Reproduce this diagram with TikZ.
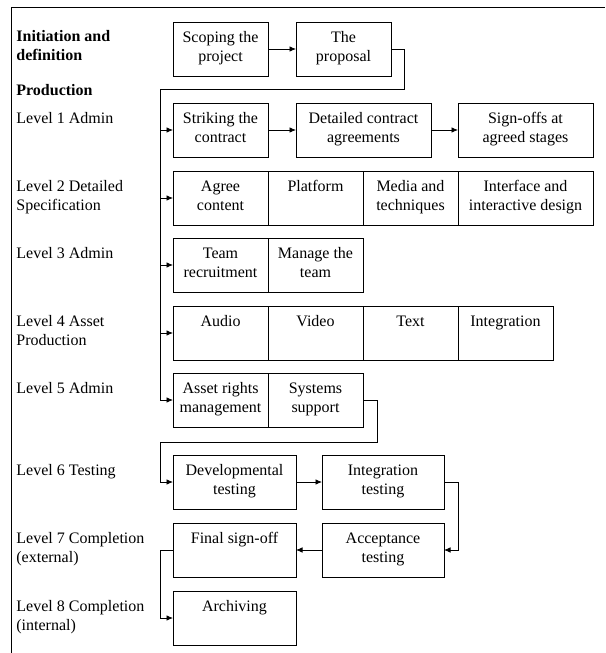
\documentclass[tikz,border=0pt]{standalone}
\usepackage{fontspec}
\setmainfont{Liberation Serif}
\usetikzlibrary{arrows.meta}
\begin{document}
\begin{tikzpicture}[x=1pt, y=-1pt, line width=0.8pt]
	\tikzset{etape/.style={draw=black, anchor=north west, outer sep=0pt, inner xsep=2pt, inner ysep=9pt, minimum width=#1, minimum height=54pt, text height=30pt, text depth=6pt, align=center, font=\fontsize{16}{19}\selectfont}, etape/.default=95pt,
		seule/.style={text height=11pt, text depth=25pt},
		niveau/.style={anchor=base west, align=left, inner sep=0pt, font=\fontsize{16}{19}\selectfont},
		fleche/.style={>={Latex[length=6.5pt,width=5.5pt]}, ->}};
	\useasboundingbox (0,0) rectangle (605,653);
	\draw (11,653) -- (11,7) -- (605,7);

	% labels: base is the baseline of the last line
	\node[niveau, font=\fontsize{16}{19}\selectfont\bfseries] (init) at (16,60) {Initiation and\\definition};
	\node[niveau, font=\fontsize{16}{19}\selectfont\bfseries] (prod) at (16,95) {Production};
	\node[niveau] (n1) at (16,123) {Level 1 Admin};
	\node[niveau] (n2) at (16,210) {Level 2 Detailed\\Specification};
	\node[niveau] (n3) at (16,258) {Level 3 Admin};
	\node[niveau] (n4) at (16,345) {Level 4 Asset\\Production};
	\node[niveau] (n5) at (16,393) {Level 5 Admin};
	\node[niveau] (n6) at (16,475) {Level 6 Testing};
	\node[niveau] (n7) at (16,562) {Level 7 Completion\\(external)};
	\node[niveau] (n8) at (16,630) {Level 8 Completion\\(internal)};

	\node[etape] (scope) at (173,22) {Scoping the\\project};
	\node[etape] (prop) at (296,22) {The\\proposal};

	\node[etape] (strike) at (173,103) {Striking the\\contract};
	\node[etape=135pt] (detail) at (296,103) {Detailed contract\\agreements};
	\node[etape=135pt] (signoff) at (458,103) {Sign-offs at\\agreed stages};

	\node[etape] (agree) at (173,171) {Agree\\content};
	\node[etape, seule] (platform) at (268,171) {Platform};
	\node[etape] (media) at (363,171) {Media and\\techniques};
	\node[etape=135pt] (interface) at (458,171) {Interface and\\interactive design};

	\node[etape] (team) at (173,238) {Team\\recruitment};
	\node[etape] (manage) at (268,238) {Manage the\\team};

	\node[etape, seule] (audio) at (173,306) {Audio};
	\node[etape, seule] (video) at (268,306) {Video};
	\node[etape, seule] (texte) at (363,306) {Text};
	\node[etape, seule] (integ) at (458,306) {Integration};

	\node[etape] (asset) at (173,373) {Asset rights\\management};
	\node[etape] (sys) at (268,373) {Systems\\support};

	\node[etape=123pt] (dev) at (173,455) {Developmental\\testing};
	\node[etape=122pt] (integtest) at (322,455) {Integration\\testing};
	\node[etape=123pt, seule] (final) at (173,523) {Final sign-off};
	\node[etape=122pt] (accept) at (322,523) {Acceptance\\testing};
	\node[etape=123pt, seule] (archive) at (173,591) {Archiving};

	\draw[fleche] (scope) -- (prop);
	\coordinate (bus) at (160,89);
	\draw (prop.east) -- ++(13,0) |- (bus) -- (bus |- asset.west);
	\foreach \n in {strike,agree,team,audio,asset}
		\draw[fleche] (bus |- \n.west) -- (\n.west);
	\draw[fleche] (strike) -- (detail);
	\draw[fleche] (detail) -- (signoff);
	\coordinate (bus2) at (160,442);
	\draw[fleche] (sys.east) -- ++(14,0) |- (bus2) |- (dev.west);
	\draw[fleche] (dev) -- (integtest);
	\draw[fleche] (integtest.east) -- ++(14,0) |- (accept.east);
	\draw[fleche] (accept) -- (final);
	\draw[fleche] (final.west) -- ++(-13,0) |- (archive.west);
\end{tikzpicture}
\end{document}
